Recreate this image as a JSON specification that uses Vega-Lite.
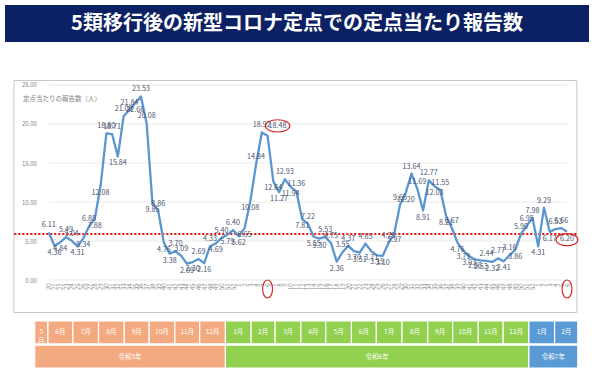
{
  "$schema": "https://vega.github.io/schema/vega-lite/v6.json",
  "padding": {"left": 5, "top": 5, "right": 0, "bottom": 0},
  "background": "white",
  "config": {"font": "Noto Sans CJK JP", "view": {"stroke": null}},
  "datasets": {
    "title": [{"t": "5類移行後の新型コロナ定点での定点当たり報告数"}],
    "grid": [{"g": 0}, {"g": 5}, {"g": 10}, {"g": 15}, {"g": 20}, {"g": 25}],
    "weekly": [
      {"k": "2023-20", "v": 6.11}, {"k": "2023-21", "v": 4.36}, {"k": "2023-22", "v": 4.84}, {"k": "2023-23", "v": 5.49},
      {"k": "2023-24", "v": 5.04}, {"k": "2023-25", "v": 4.31}, {"k": "2023-26", "v": 5.34}, {"k": "2023-27", "v": 6.88},
      {"k": "2023-28", "v": 7.88}, {"k": "2023-29", "v": 12.08}, {"k": "2023-30", "v": 18.80}, {"k": "2023-31", "v": 18.71},
      {"k": "2023-32", "v": 15.84}, {"k": "2023-33", "v": 21.00}, {"k": "2023-34", "v": 21.84}, {"k": "2023-35", "v": 22.66},
      {"k": "2023-36", "v": 23.53}, {"k": "2023-37", "v": 20.08}, {"k": "2023-38", "v": 9.85}, {"k": "2023-39", "v": 8.86},
      {"k": "2023-40", "v": 4.76}, {"k": "2023-41", "v": 3.38}, {"k": "2023-42", "v": 3.70}, {"k": "2023-43", "v": 3.09},
      {"k": "2023-44", "v": 2.09}, {"k": "2023-45", "v": 2.30}, {"k": "2023-46", "v": 2.69}, {"k": "2023-47", "v": 2.16},
      {"k": "2023-48", "v": 4.33}, {"k": "2023-49", "v": 4.69}, {"k": "2023-50", "v": 5.40}, {"k": "2023-51", "v": 5.79},
      {"k": "2023-52", "v": 6.40},
      {"k": "2024-1", "v": 5.62}, {"k": "2024-2", "v": 6.65}, {"k": "2024-3", "v": 10.08}, {"k": "2024-4", "v": 14.84},
      {"k": "2024-5", "v": 18.92}, {"k": "2024-6", "v": 18.48}, {"k": "2024-7", "v": 12.64}, {"k": "2024-8", "v": 11.27},
      {"k": "2024-9", "v": 12.93}, {"k": "2024-10", "v": 11.94}, {"k": "2024-11", "v": 11.36}, {"k": "2024-12", "v": 7.81},
      {"k": "2024-13", "v": 7.22}, {"k": "2024-14", "v": 5.55}, {"k": "2024-15", "v": 5.30}, {"k": "2024-16", "v": 5.53},
      {"k": "2024-17", "v": 4.75}, {"k": "2024-18", "v": 2.36}, {"k": "2024-19", "v": 3.55}, {"k": "2024-20", "v": 4.37},
      {"k": "2024-21", "v": 3.70}, {"k": "2024-22", "v": 3.51}, {"k": "2024-23", "v": 4.65}, {"k": "2024-24", "v": 3.71},
      {"k": "2024-25", "v": 3.15}, {"k": "2024-26", "v": 3.10}, {"k": "2024-27", "v": 4.75}, {"k": "2024-28", "v": 5.97},
      {"k": "2024-29", "v": 9.65}, {"k": "2024-30", "v": 11.20}, {"k": "2024-31", "v": 13.64}, {"k": "2024-32", "v": 11.69},
      {"k": "2024-33", "v": 8.91}, {"k": "2024-34", "v": 12.77}, {"k": "2024-35", "v": 12.03}, {"k": "2024-36", "v": 11.55},
      {"k": "2024-37", "v": 8.21}, {"k": "2024-38", "v": 6.67}, {"k": "2024-39", "v": 4.76}, {"k": "2024-40", "v": 3.79},
      {"k": "2024-41", "v": 3.03}, {"k": "2024-42", "v": 2.66}, {"k": "2024-43", "v": 2.53}, {"k": "2024-44", "v": 2.44},
      {"k": "2024-45", "v": 2.32}, {"k": "2024-46", "v": 2.77}, {"k": "2024-47", "v": 2.41}, {"k": "2024-48", "v": 3.16},
      {"k": "2024-49", "v": 3.86}, {"k": "2024-50", "v": 5.90}, {"k": "2024-51", "v": 6.95}, {"k": "2024-52", "v": 7.98},
      {"k": "2025-1", "v": 4.31}, {"k": "2025-2", "v": 9.29}, {"k": "2025-3", "v": 6.17}, {"k": "2025-4", "v": 6.53},
      {"k": "2025-5", "v": 6.66}, {"k": "2025-6", "v": 6.20}
    ],
    "table": [
      {"row": "m", "label": "5\n月", "s": "2023-05-16", "e": "2023-06-01", "era": "R5"},
      {"row": "m", "label": "6月", "s": "2023-06-01", "e": "2023-07-01", "era": "R5"},
      {"row": "m", "label": "7月", "s": "2023-07-01", "e": "2023-08-01", "era": "R5"},
      {"row": "m", "label": "8月", "s": "2023-08-01", "e": "2023-09-01", "era": "R5"},
      {"row": "m", "label": "9月", "s": "2023-09-01", "e": "2023-10-01", "era": "R5"},
      {"row": "m", "label": "10月", "s": "2023-10-01", "e": "2023-11-01", "era": "R5"},
      {"row": "m", "label": "11月", "s": "2023-11-01", "e": "2023-12-01", "era": "R5"},
      {"row": "m", "label": "12月", "s": "2023-12-01", "e": "2024-01-01", "era": "R5"},
      {"row": "m", "label": "1月", "s": "2024-01-01", "e": "2024-02-01", "era": "R6"},
      {"row": "m", "label": "2月", "s": "2024-02-01", "e": "2024-03-01", "era": "R6"},
      {"row": "m", "label": "3月", "s": "2024-03-01", "e": "2024-04-01", "era": "R6"},
      {"row": "m", "label": "4月", "s": "2024-04-01", "e": "2024-05-01", "era": "R6"},
      {"row": "m", "label": "5月", "s": "2024-05-01", "e": "2024-06-01", "era": "R6"},
      {"row": "m", "label": "6月", "s": "2024-06-01", "e": "2024-07-01", "era": "R6"},
      {"row": "m", "label": "7月", "s": "2024-07-01", "e": "2024-08-01", "era": "R6"},
      {"row": "m", "label": "8月", "s": "2024-08-01", "e": "2024-09-01", "era": "R6"},
      {"row": "m", "label": "9月", "s": "2024-09-01", "e": "2024-10-01", "era": "R6"},
      {"row": "m", "label": "10月", "s": "2024-10-01", "e": "2024-11-01", "era": "R6"},
      {"row": "m", "label": "11月", "s": "2024-11-01", "e": "2024-12-01", "era": "R6"},
      {"row": "m", "label": "12月", "s": "2024-12-01", "e": "2025-01-01", "era": "R6"},
      {"row": "m", "label": "1月", "s": "2025-01-01", "e": "2025-02-01", "era": "R7"},
      {"row": "m", "label": "2月", "s": "2025-02-01", "e": "2025-03-01", "era": "R7"},
      {"row": "y", "label": "令和5年", "s": "2023-05-16", "e": "2024-01-01", "era": "R5"},
      {"row": "y", "label": "令和6年", "s": "2024-01-01", "e": "2025-01-01", "era": "R6"},
      {"row": "y", "label": "令和7年", "s": "2025-01-01", "e": "2025-03-01", "era": "R7"}
    ]
  },
  "spacing": 37,
  "center": true,
  "vconcat": [
    {
      "width": 584,
      "height": 37,
      "view": {"fill": "#0c2163", "stroke": null},
      "data": {"name": "title"},
      "mark": {"type": "text", "color": "white", "fontSize": 20, "fontWeight": "bold", "font": "Noto Sans CJK JP", "align": "center", "baseline": "middle"},
      "encoding": {"text": {"field": "t", "type": "nominal"}}
    },
    {
      "spacing": 7,
      "center": true,
      "vconcat": [
        {
          "width": 563,
          "height": 232,
          "view": {"stroke": "#c8c8c8", "strokeWidth": 1},
          "data": {"name": "weekly"},
          "layer": [
            {
              "mark": {"type": "line", "opacity": 0},
              "encoding": {
                "x": {
                  "field": "k", "type": "ordinal", "sort": null,
                  "scale": {"type": "point", "range": [32.5, 556.5]},
                  "axis": {"title": null, "labelExpr": "+split(datum.value, '-')[1]", "labelAngle": -90, "ticks": false, "domain": false, "grid": false, "offset": -31, "labelPadding": 2, "labelFontSize": 5.8, "labelColor": "#8c8c8c", "labelOverlap": false}
                },
                "y": {
                  "field": "v", "type": "quantitative",
                  "scale": {"domain": [-4.1, 25.64], "nice": false, "zero": false},
                  "axis": {"title": "定点当たりの報告数（人）", "values": [0, 5, 10, 15, 20, 25], "format": ".2f", "grid": false, "ticks": false, "domain": false, "offset": -25, "labelPadding": 2, "labelFontSize": 6, "labelColor": "#7f7f7f", "titleAngle": 0, "titleAlign": "left", "titleBaseline": "middle", "titleX": -16, "titleY": 18, "titleFontSize": 6.5, "titleFontWeight": "normal", "titleColor": "#7f7f7f"}
                }
              }
            },
            {
              "data": {"name": "grid"},
              "mark": {"type": "rule", "color": "#e4e4e4", "strokeWidth": 0.8},
              "encoding": {
                "y": {"field": "g", "type": "quantitative"},
                "x": {"datum": "2023-20", "type": "ordinal"},
                "x2": {"datum": "2025-6"}
              }
            },
            {
              "data": {"values": [{}]},
              "mark": {"type": "rule", "color": "#e3211c", "strokeWidth": 2, "strokeDash": [2.2, 1.8]},
              "encoding": {"y": {"datum": 5.9, "type": "quantitative"}}
            },
            {
              "mark": {"type": "line", "color": "#5a96d0", "strokeWidth": 2.3, "strokeJoin": "round"},
              "encoding": {
                "x": {"field": "k", "type": "ordinal", "sort": null},
                "y": {"field": "v", "type": "quantitative"}
              }
            },
            {
              "transform": [
                {"window": [{"op": "lag", "field": "v", "as": "prev"}, {"op": "lead", "field": "v", "as": "next"}]},
                {"calculate": "datum.v >= ((isValid(datum.prev) ? datum.prev : datum.v) + (isValid(datum.next) ? datum.next : datum.v)) / 2", "as": "up"},
                {"filter": "datum.up && datum.k !== '2024-6'"}
              ],
              "mark": {"type": "text", "fontSize": 7.2, "color": "#4a5670", "baseline": "bottom", "dy": -3},
              "encoding": {
                "x": {"field": "k", "type": "ordinal", "sort": null},
                "y": {"field": "v", "type": "quantitative"},
                "text": {"field": "v", "type": "quantitative", "format": ".2f"}
              }
            },
            {
              "transform": [
                {"window": [{"op": "lag", "field": "v", "as": "prev"}, {"op": "lead", "field": "v", "as": "next"}]},
                {"calculate": "datum.v >= ((isValid(datum.prev) ? datum.prev : datum.v) + (isValid(datum.next) ? datum.next : datum.v)) / 2", "as": "up"},
                {"filter": "!datum.up"}
              ],
              "mark": {"type": "text", "fontSize": 7.2, "color": "#4a5670", "baseline": "top", "dy": 3},
              "encoding": {
                "x": {"field": "k", "type": "ordinal", "sort": null},
                "y": {"field": "v", "type": "quantitative"},
                "text": {"field": "v", "type": "quantitative", "format": ".2f"}
              }
            },
            {
              "transform": [{"filter": "datum.k === '2024-6'"}],
              "mark": {"type": "text", "fontSize": 7.2, "color": "#4a5670", "baseline": "middle", "dx": 10, "dy": -10},
              "encoding": {
                "x": {"field": "k", "type": "ordinal", "sort": null},
                "y": {"field": "v", "type": "quantitative"},
                "text": {"field": "v", "type": "quantitative", "format": ".2f"}
              }
            },
            {
              "transform": [{"filter": "datum.k === '2024-6'"}],
              "mark": {"type": "point", "shape": "M -1 0 A 1 0.5 0 1 1 1 0 A 1 0.5 0 1 1 -1 0 Z", "size": 600, "filled": false, "stroke": "#d62b2b", "strokeWidth": 1.2, "opacity": 1, "xOffset": 10, "yOffset": -10},
              "encoding": {
                "x": {"field": "k", "type": "ordinal", "sort": null},
                "y": {"field": "v", "type": "quantitative"}
              }
            },
            {
              "transform": [{"filter": "datum.k === '2025-6'"}],
              "mark": {"type": "point", "shape": "M -1 0 A 1 0.55 0 1 1 1 0 A 1 0.55 0 1 1 -1 0 Z", "size": 480, "filled": false, "stroke": "#d62b2b", "strokeWidth": 1.2, "opacity": 1, "yOffset": 8},
              "encoding": {
                "x": {"field": "k", "type": "ordinal", "sort": null},
                "y": {"field": "v", "type": "quantitative"}
              }
            },
            {
              "transform": [{"filter": "datum.k === '2024-6' || datum.k === '2025-6'"}],
              "mark": {"type": "point", "shape": "M 0 -1 A 0.55 1 0 1 1 0 1 A 0.55 1 0 1 1 0 -1 Z", "size": 324, "filled": false, "stroke": "#d62b2b", "strokeWidth": 1.2, "opacity": 1},
              "encoding": {
                "x": {"field": "k", "type": "ordinal", "sort": null},
                "y": {"datum": -1.15, "type": "quantitative"}
              }
            }
          ]
        },
        {
          "width": 563,
          "height": 47,
          "data": {"name": "table"},
          "transform": [{"calculate": "(toDate(datum.s) + toDate(datum.e)) / 2", "as": "mid"}],
          "encoding": {
            "y": {"field": "row", "type": "nominal", "sort": ["m", "y"], "scale": {"paddingInner": 0.05, "paddingOuter": 0}, "axis": null}
          },
          "layer": [
            {
              "mark": {"type": "rect", "stroke": "white", "strokeWidth": 1.2},
              "encoding": {
                "x": {"field": "s", "type": "temporal", "scale": {"domain": ["2023-04-23", "2025-03-02"]}, "axis": null},
                "x2": {"field": "e"},
                "color": {"field": "era", "type": "nominal", "scale": {"domain": ["R5", "R6", "R7"], "range": ["#f4aa80", "#92d050", "#5b9bd5"]}, "legend": null}
              }
            },
            {
              "mark": {"type": "text", "color": "white", "fontSize": 6.5, "lineBreak": "\n", "baseline": "middle"},
              "encoding": {
                "x": {"field": "mid", "type": "temporal", "axis": null},
                "text": {"field": "label", "type": "nominal"}
              }
            }
          ]
        }
      ]
    }
  ]
}
